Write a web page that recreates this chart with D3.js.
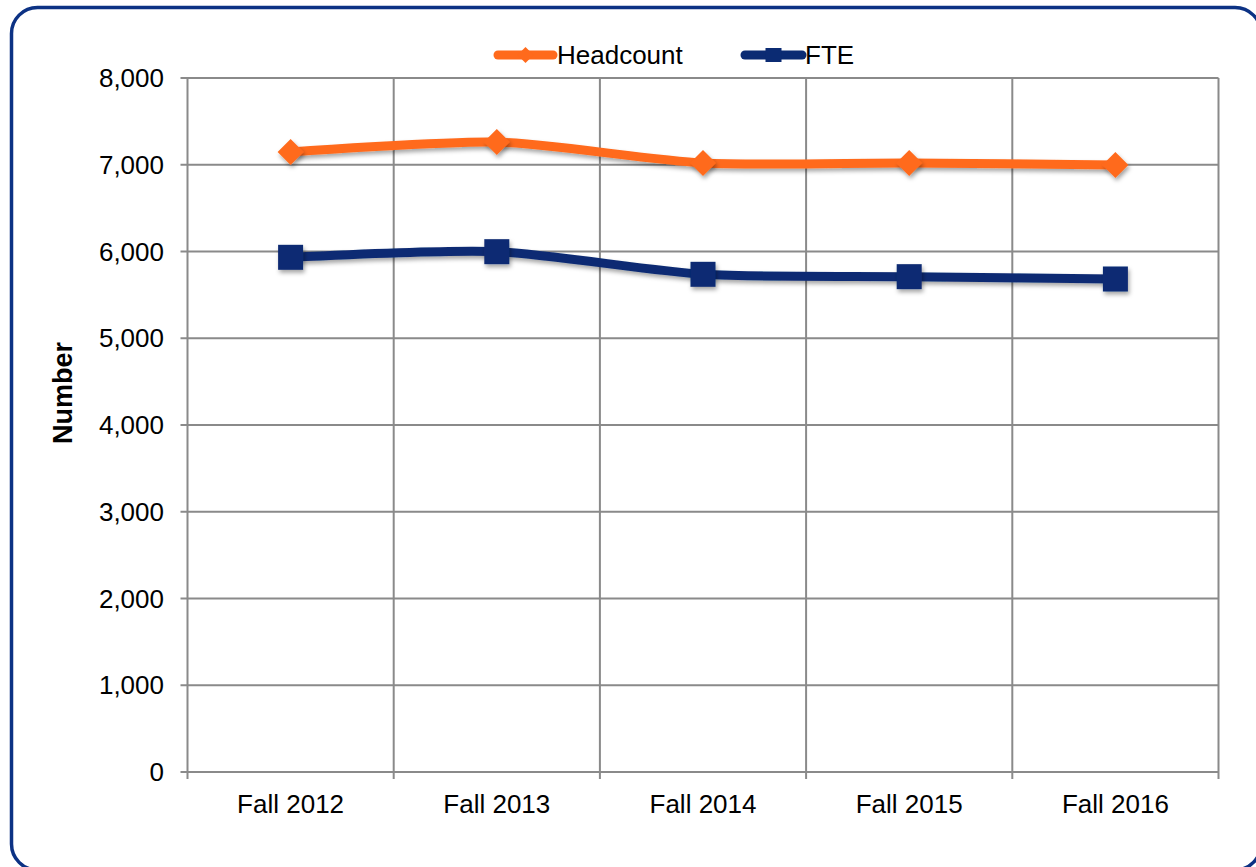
<!DOCTYPE html>
<html><head><meta charset="utf-8">
<script src="https://cdn.jsdelivr.net/npm/d3@7"></script>
<style>body{margin:0;background:#fff}svg{display:block}text{font-family:"Liberation Sans",Arial,sans-serif}</style>
</head><body>
<svg id="c" width="1256" height="867"></svg>
<script>
const categories = ["Fall 2012","Fall 2013","Fall 2014","Fall 2015","Fall 2016"];
const headcount = [7147, 7262, 7020, 7020, 6997];
const fte = [5933, 5998, 5737, 5710, 5683];
const yTicks = [0,1000,2000,3000,4000,5000,6000,7000,8000];
const seriesNames = ["Headcount","FTE"];

const ORANGE = "#FF6A1C", NAVY = "#0B2B73";
const svg = d3.select("#c");
const defs = svg.append("defs");
const f = defs.append("filter").attr("id","sh").attr("x","-50%").attr("y","-50%").attr("width","200%").attr("height","200%");
f.append("feDropShadow").attr("dx",1.5).attr("dy",3).attr("stdDeviation",2).attr("flood-color","#000").attr("flood-opacity",0.35);

svg.append("rect").attr("x",11.5).attr("y",7.5).attr("width",1249.5).attr("height",862.5)
  .attr("rx",26).attr("fill","#fff").attr("stroke","#0C3284").attr("stroke-width",3.5);

const L=187.5, R=1218.5, T=78, B=772;
const x = d3.scaleBand().domain(categories).range([L,R]);
const y = d3.scaleLinear().domain([0,8000]).range([B,T]);
const g = svg.append("g");
const grid = "#8a8a8a";

g.selectAll(".hg").data(yTicks).join("line").attr("x1",L-7).attr("x2",R)
  .attr("y1",d=>y(d)).attr("y2",d=>y(d)).attr("stroke",grid).attr("stroke-width",2);
const bounds = categories.map(c=>x(c)).concat([R]);
g.selectAll(".vg").data(bounds).join("line").attr("x1",d=>d).attr("x2",d=>d)
  .attr("y1",T).attr("y2",B+7).attr("stroke",grid).attr("stroke-width",2);

g.selectAll(".yl").data(yTicks).join("text").attr("x",164).attr("y",d=>y(d)).attr("dy","0.35em")
  .attr("text-anchor","end").attr("font-size",26).attr("fill","#000").text(d3.format(","));
g.selectAll(".xl").data(categories).join("text").attr("x",d=>x(d)+x.bandwidth()/2).attr("y",813)
  .attr("text-anchor","middle").attr("font-size",26).attr("fill","#000").text(d=>d);
svg.append("text").attr("transform","translate(72,393) rotate(-90)").attr("text-anchor","middle")
  .attr("font-size",27).attr("font-weight","bold").text("Number");

const cx = d => x(d)+x.bandwidth()/2;
const line = d3.line().x((d,i)=>cx(categories[i])).y(d=>y(d)).curve(d3.curveCardinal.tension(0.3));

function series(vals,color,shape){
  const sg = svg.append("g");
  sg.append("path").attr("d",line(vals)).attr("fill","none").attr("stroke",color)
    .attr("stroke-width",9).attr("stroke-linejoin","round").attr("stroke-linecap","round").attr("filter","url(#sh)");
  sg.selectAll("path.m").data(vals).join("path").attr("class","m")
    .attr("transform",(d,i)=>`translate(${cx(categories[i])},${y(d)})`)
    .attr("d", shape==="diamond" ? "M0,-13L13,0L0,13L-13,0Z" : "M-12.5,-12.5H12.5V12.5H-12.5Z")
    .attr("fill",color).attr("filter","url(#sh)");
}
series(fte,NAVY,"square");
series(headcount,ORANGE,"diamond");

const leg = svg.append("g");
const items = [{name:seriesNames[0],c:ORANGE,s:"diamond",x0:498,x1:553,tx:557},
               {name:seriesNames[1],c:NAVY,s:"square",x0:745,x1:802,tx:805}];
items.forEach(it=>{
  leg.append("line").attr("x1",it.x0).attr("x2",it.x1).attr("y1",55).attr("y2",55)
    .attr("stroke",it.c).attr("stroke-width",9).attr("stroke-linecap","round");
  const mx=(it.x0+it.x1)/2;
  leg.append("path").attr("transform",`translate(${mx},55)`)
    .attr("d", it.s==="diamond" ? "M0,-8L8,0L0,8L-8,0Z" : "M-8,-7H8V7H-8Z").attr("fill",it.c);
  leg.append("text").attr("x",it.tx).attr("y",55).attr("dy","0.35em").attr("font-size",26).text(it.name);
});
</script>
</body></html>
